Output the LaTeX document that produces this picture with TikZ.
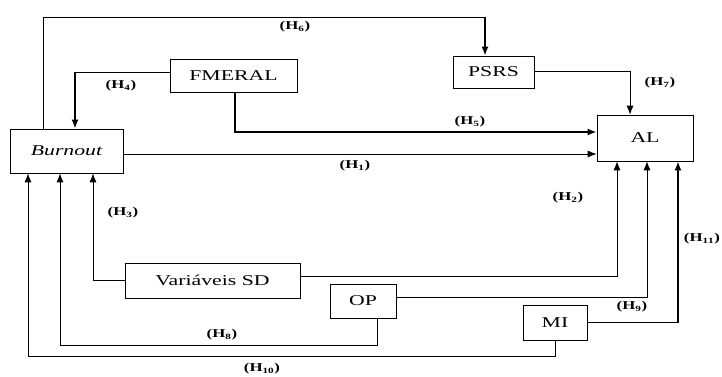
\documentclass[tikz,border=0pt]{standalone}
\usepackage{fontspec}
\usepackage{graphicx}
\setmainfont{Liberation Serif}
\usetikzlibrary{arrows.meta}
\newcommand{\wide}[1]{\scalebox{1.45}[1]{#1}}
\newcommand{\hlab}[1]{\scalebox{1.4}[1]{\bfseries (H$_{\mathbf{#1}}$)}}
\begin{document}
\begin{tikzpicture}[x=1pt,y=-1pt,
  box/.style={draw,line width=0.7pt,inner sep=0pt,font=\fontsize{15}{17}\selectfont},
  thin/.style={line width=0.8pt},
  thk/.style={line width=1.6pt},
  arr/.style={-{Latex[length=9pt,width=7pt]}},
  lab/.style={font=\fontsize{12}{14}\selectfont,inner sep=0pt}]
\useasboundingbox (0,0) rectangle (722,376);
% boxes
\node[box,minimum width=113pt,minimum height=44pt] (burn) at (66.5,151) {\wide{\itshape Burnout}};
\node[box,minimum width=127pt,minimum height=33pt] (fm) at (233.5,76) {\wide{FMERAL}};
\node[box,minimum width=81pt,minimum height=32pt] (psrs) at (493.5,72) {\wide{PSRS}};
\node[box,minimum width=96pt,minimum height=46pt] (al) at (645,138) {\wide{AL}};
\node[box,minimum width=175pt,minimum height=35pt] (sd) at (212.5,280.5) {\wide{Variáveis SD}};
\node[box,minimum width=66pt,minimum height=34pt] (op) at (363,301) {\wide{OP}};
\node[box,minimum width=64pt,minimum height=35pt] (mi) at (555,322.5) {\wide{MI}};
% corner coordinates
\coordinate (c6a) at (43,17);
\coordinate (c6b) at (485,17);
\coordinate (c4) at (75,72);
\coordinate (c5) at (235,132);
\coordinate (c7) at (630,71);
\coordinate (c8) at (60,345);
\coordinate (c10) at (28,356);
% H6
\draw[thin] (43,0 |- burn.north) -- (c6a) -- (c6b);
\draw[thk,arr] (c6b) -- (485,0 |- psrs.north);
% H4
\draw[thin] ([yshift=4pt]fm.west) -- (c4);
\draw[thk,arr] (c4) -- (75,0 |- burn.north);
% H5
\draw[thk,arr] (235,0 |- fm.south) |- (al.west |- c5);
% H1
\draw[thin,arr] (burn.east |- 0,154) -- (al.west |- 0,154);
% H7
\draw[thin,arr] (psrs.east |- c7) -| (630,0 |- al.north);
% H3
\draw[thin,arr] (sd.west) -| (93,0 |- burn.south);
% H8
\draw[thin,arr] (377,0 |- op.south) |- (c8) -- (60,0 |- burn.south);
% H10
\draw[thin,arr] (555,0 |- mi.south) |- (c10) -- (28,0 |- burn.south);
% H2
\draw[thin,arr] ([yshift=4pt]sd.east) -| (617,0 |- al.south);
% H9
\draw[thin,arr] ([yshift=4pt]op.east) -| (647,0 |- al.south);
% H11
\draw[thin] (mi.east) -- (678,0 |- mi.east);
\draw[thk,arr] (678,0 |- mi.east) -- (678,0 |- al.south);
% labels
\node[lab] (l6) at (295,27) {\hlab{6}};
\node[lab] (l4) at (121,86) {\hlab{4}};
\node[lab] (l5) at (470,122) {\hlab{5}};
\node[lab] (l1) at (355,166) {\hlab{1}};
\node[lab] (l7) at (660,83) {\hlab{7}};
\node[lab] (l2) at (568,198) {\hlab{2}};
\node[lab] (l3) at (123,213) {\hlab{3}};
\node[lab] (l11) at (702,239) {\hlab{11}};
\node[lab] (l9) at (632,307) {\hlab{9}};
\node[lab] (l8) at (222,335) {\hlab{8}};
\node[lab] (l10) at (262,369) {\hlab{10}};
\end{tikzpicture}
\end{document}
